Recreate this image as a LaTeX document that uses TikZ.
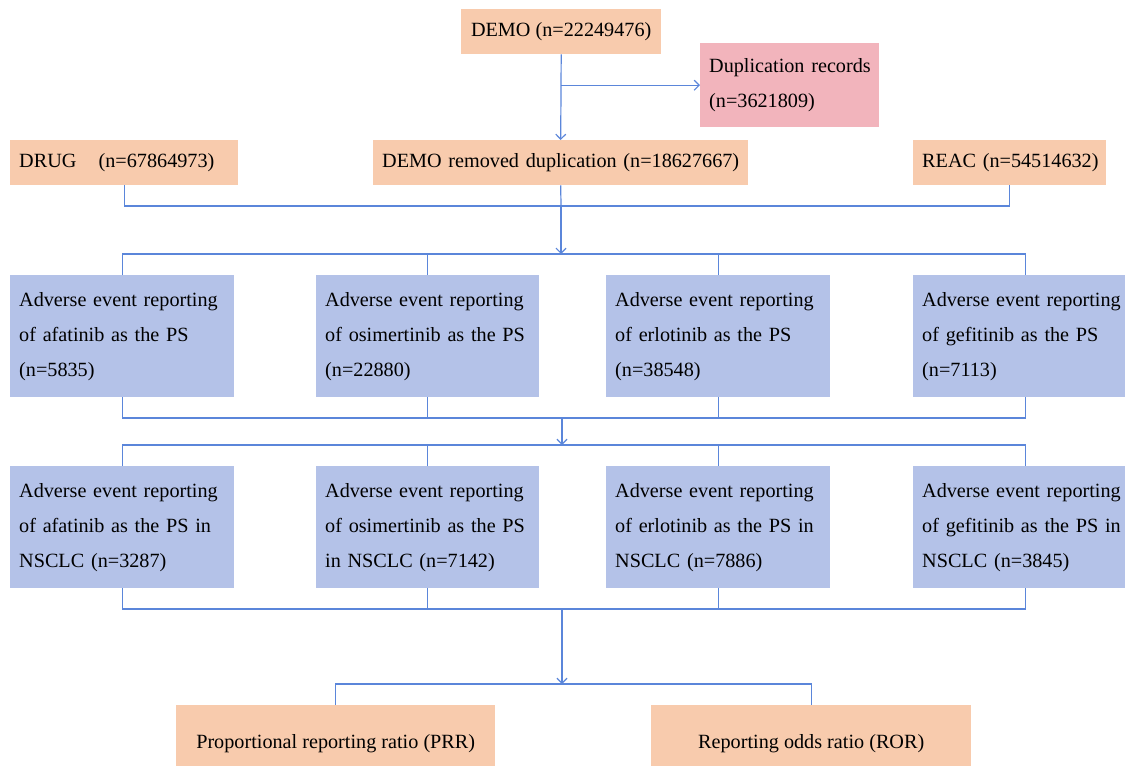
\documentclass[tikz,border=0pt]{standalone}
\usepackage{fontspec}
\setmainfont{Liberation Serif}
\usetikzlibrary{arrows.meta}
\definecolor{orangebox}{HTML}{F8CBAD}
\definecolor{pinkbox}{HTML}{F2B4BC}
\definecolor{bluebox}{HTML}{B4C2E8}
\definecolor{linkblue}{HTML}{5B86DA}
\begin{document}
\begin{tikzpicture}[x=1pt,y=-1pt,
  box/.style={draw=none, inner ysep=0pt, anchor=north west, font=\fontsize{20.2}{35}\selectfont},
  obox/.style={box, fill=orangebox},
  pbox/.style={box, fill=pinkbox},
  bbox/.style={box, fill=bluebox},
  lefttext/.style={inner xsep=9pt, align=left},
  ctext/.style={inner xsep=0pt, align=center},
  link/.style={draw=linkblue, line width=1.2pt},
  tip/.style={link, -{Straight Barb[length=5pt,width=10pt,line width=1.2pt]}}
]
\useasboundingbox (0,0) rectangle (1125,766);

% top row
\node[obox, ctext, minimum width=200pt, minimum height=45pt] (demo) at (461,9) {DEMO (n=22249476)};
\node[pbox, lefttext, text width=161pt, minimum height=84pt] (dup) at (700,43) {\mbox{Duplication records}\\\mbox{(n=3621809)}};
\node[obox, lefttext, text width=210pt, minimum height=45pt] (drug) at (10,140) {\mbox{DRUG\hspace{15.5pt} (n=67864973)}};
\node[obox, lefttext, text width=357pt, minimum height=45pt] (demor) at (373,140) {\mbox{DEMO removed duplication (n=18627667)}};
\node[obox, lefttext, text width=175pt, minimum height=45pt] (reac) at (913,140) {\mbox{REAC (n=54514632)}};

% row 1
\node[bbox, lefttext, text width=206pt, minimum height=122pt] (a1) at (10,275) {\mbox{Adverse event reporting}\\\mbox{of afatinib as the PS}\\\mbox{(n=5835)}};
\node[bbox, lefttext, text width=205pt, minimum height=122pt] (a2) at (316,275) {\mbox{Adverse event reporting}\\\mbox{of osimertinib as the PS}\\\mbox{(n=22880)}};
\node[bbox, lefttext, text width=206pt, minimum height=122pt] (a3) at (606,275) {\mbox{Adverse event reporting}\\\mbox{of erlotinib as the PS}\\\mbox{(n=38548)}};
\node[bbox, lefttext, text width=206pt, minimum height=122pt] (a4) at (913,275) {\mbox{Adverse event reporting}\\\mbox{of gefitinib as the PS}\\\mbox{(n=7113)}};

% row 2
\node[bbox, lefttext, text width=206pt, minimum height=122pt] (b1) at (10,466) {\mbox{Adverse event reporting}\\\mbox{of afatinib as the PS in}\\\mbox{NSCLC (n=3287)}};
\node[bbox, lefttext, text width=205pt, minimum height=122pt] (b2) at (316,466) {\mbox{Adverse event reporting}\\\mbox{of osimertinib as the PS}\\\mbox{in NSCLC (n=7142)}};
\node[bbox, lefttext, text width=206pt, minimum height=122pt] (b3) at (606,466) {\mbox{Adverse event reporting}\\\mbox{of erlotinib as the PS in}\\\mbox{NSCLC (n=7886)}};
\node[bbox, lefttext, text width=206pt, minimum height=122pt] (b4) at (913,466) {\mbox{Adverse event reporting}\\\mbox{of gefitinib as the PS in}\\\mbox{NSCLC (n=3845)}};

% bottom
\node[obox, ctext, minimum width=319pt, minimum height=76pt] (prr) at (176,705) {Proportional reporting ratio (PRR)};
\node[obox, ctext, minimum width=320pt, minimum height=76pt] (ror) at (651,705) {Reporting odds ratio (ROR)};

% coordinates
\coordinate (j0) at (demo.south |- dup.west);
\coordinate (m1) at (561,206);
\coordinate (bus1) at (561,254);
\coordinate (m2) at (562,418);
\coordinate (bus2) at (562,445);
\coordinate (m3) at (562,609);
\coordinate (bus3) at (562,684);

% connectors
\draw[tip] (demo.south) -- (demor.north);
\draw[tip] (j0) -- (dup.west);
\draw[link] (drug.south) |- (m1) -| (reac.south);
\draw[link] (demor.south) -- (m1);
\draw[tip] (m1) -- (bus1);
\draw[link] (a1.north) |- (bus1) -| (a4.north);
\draw[link] (a2.north) -- (a2.north |- bus1);
\draw[link] (a3.north) -- (a3.north |- bus1);
\draw[link] (a1.south) |- (m2) -| (a4.south);
\draw[link] (a2.south) -- (a2.south |- m2);
\draw[link] (a3.south) -- (a3.south |- m2);
\draw[tip] (m2) -- (bus2);
\draw[link] (b1.north) |- (bus2) -| (b4.north);
\draw[link] (b2.north) -- (b2.north |- bus2);
\draw[link] (b3.north) -- (b3.north |- bus2);
\draw[link] (b1.south) |- (m3) -| (b4.south);
\draw[link] (b2.south) -- (b2.south |- m3);
\draw[link] (b3.south) -- (b3.south |- m3);
\draw[tip] (m3) -- (bus3);
\draw[link] (prr.north) |- (bus3) -| (ror.north);
\end{tikzpicture}
\end{document}
